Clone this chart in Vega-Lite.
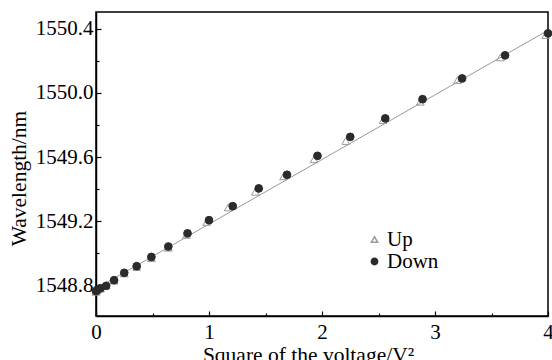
{
  "$schema": "https://vega.github.io/schema/vega-lite/v6.json",
  "width": 452,
  "height": 304,
  "autosize": {"type": "none"},
  "padding": {"left": 96, "top": 12, "right": 4, "bottom": 44},
  "background": "white",
  "config": {
    "view": {"stroke": "black", "strokeWidth": 1.5},
    "font": "Liberation Serif",
    "axis": {
      "labelFont": "Liberation Serif, Times New Roman, serif",
      "titleFont": "Liberation Serif, Times New Roman, serif",
      "labelFontSize": 21,
      "titleFontSize": 21.5,
      "titleFontWeight": "normal",
      "labelColor": "black",
      "titleColor": "black",
      "domainColor": "black",
      "domainWidth": 1.5,
      "tickColor": "black",
      "tickWidth": 1.2,
      "grid": false
    },
    "legend": {
      "labelFont": "Liberation Serif, Times New Roman, serif",
      "labelFontSize": 21,
      "labelColor": "black"
    }
  },
  "data": {
    "values": [
      {"v2": 0, "wl": 1548.78, "series": "Fit"},
      {"v2": 4, "wl": 1550.39, "series": "Fit"},
      {"v2": 0.0, "wl": 1548.760, "series": "Up"},
      {"v2": 0.01, "wl": 1548.770, "series": "Up"},
      {"v2": 0.04, "wl": 1548.780, "series": "Up"},
      {"v2": 0.09, "wl": 1548.800, "series": "Up"},
      {"v2": 0.16, "wl": 1548.830, "series": "Up"},
      {"v2": 0.25, "wl": 1548.875, "series": "Up"},
      {"v2": 0.36, "wl": 1548.915, "series": "Up"},
      {"v2": 0.49, "wl": 1548.970, "series": "Up"},
      {"v2": 0.64, "wl": 1549.035, "series": "Up"},
      {"v2": 0.80, "wl": 1549.115, "series": "Up"},
      {"v2": 0.98, "wl": 1549.196, "series": "Up"},
      {"v2": 1.17, "wl": 1549.286, "series": "Up"},
      {"v2": 1.41, "wl": 1549.384, "series": "Up"},
      {"v2": 1.66, "wl": 1549.480, "series": "Up"},
      {"v2": 1.93, "wl": 1549.586, "series": "Up"},
      {"v2": 2.21, "wl": 1549.700, "series": "Up"},
      {"v2": 2.54, "wl": 1549.830, "series": "Up"},
      {"v2": 2.87, "wl": 1549.945, "series": "Up"},
      {"v2": 3.20, "wl": 1550.080, "series": "Up"},
      {"v2": 3.58, "wl": 1550.221, "series": "Up"},
      {"v2": 3.98, "wl": 1550.360, "series": "Up"},
      {"v2": 0.0, "wl": 1548.765, "series": "Down"},
      {"v2": 0.01, "wl": 1548.772, "series": "Down"},
      {"v2": 0.04, "wl": 1548.783, "series": "Down"},
      {"v2": 0.09, "wl": 1548.798, "series": "Down"},
      {"v2": 0.16, "wl": 1548.833, "series": "Down"},
      {"v2": 0.25, "wl": 1548.879, "series": "Down"},
      {"v2": 0.36, "wl": 1548.920, "series": "Down"},
      {"v2": 0.49, "wl": 1548.978, "series": "Down"},
      {"v2": 0.64, "wl": 1549.043, "series": "Down"},
      {"v2": 0.81, "wl": 1549.125, "series": "Down"},
      {"v2": 1.00, "wl": 1549.207, "series": "Down"},
      {"v2": 1.21, "wl": 1549.294, "series": "Down"},
      {"v2": 1.44, "wl": 1549.405, "series": "Down"},
      {"v2": 1.69, "wl": 1549.490, "series": "Down"},
      {"v2": 1.96, "wl": 1549.608, "series": "Down"},
      {"v2": 2.25, "wl": 1549.726, "series": "Down"},
      {"v2": 2.56, "wl": 1549.841, "series": "Down"},
      {"v2": 2.89, "wl": 1549.961, "series": "Down"},
      {"v2": 3.24, "wl": 1550.090, "series": "Down"},
      {"v2": 3.62, "wl": 1550.234, "series": "Down"},
      {"v2": 4.00, "wl": 1550.371, "series": "Down"}
    ]
  },
  "encoding": {
    "x": {
      "field": "v2", "type": "quantitative",
      "scale": {"domain": [0, 4], "nice": false, "zero": false},
      "axis": {
        "title": "Square of the voltage/V²",
        "values": [0, 0.5, 1, 1.5, 2, 2.5, 3, 3.5, 4],
        "labelExpr": "datum.value % 1 == 0 ? format(datum.value, 'd') : ''",
        "tickSize": {"condition": {"test": "datum.value % 1 == 0", "value": -5}, "value": -3},
        "labelPadding": 10,
        "titlePadding": 0,
        "titleX": 212,
        "labelFlush": false,
        "labelOverlap": false
      }
    },
    "y": {
      "field": "wl", "type": "quantitative",
      "scale": {"domain": [1548.61, 1550.504], "nice": false, "zero": false},
      "axis": {
        "title": "Wavelength/nm",
        "values": [1548.8, 1549.0, 1549.2, 1549.4, 1549.6, 1549.8, 1550.0, 1550.2, 1550.4],
        "labelExpr": "round(datum.value*10) % 4 == 0 ? format(datum.value, '.1f') : ''",
        "tickSize": {"condition": {"test": "round(datum.value*10) % 4 == 0", "value": -5}, "value": -3},
        "labelPadding": 8,
        "titlePadding": 5,
        "titleY": 166,
        "labelFlush": false,
        "labelOverlap": false
      }
    }
  },
  "layer": [
    {
      "transform": [{"filter": "datum.series == 'Fit'"}],
      "mark": {"type": "line", "color": "#999999", "strokeWidth": 1}
    },
    {
      "transform": [{"filter": "datum.series != 'Fit'"}],
      "mark": {"type": "point", "strokeWidth": 1, "size": 60, "opacity": 1},
      "encoding": {
        "order": {"field": "series", "sort": "descending"},
        "shape": {"field": "series", "type": "nominal", "scale": {"domain": ["Up", "Down"], "range": ["triangle-up", "circle"]},
          "legend": {
            "title": null,
            "orient": "none",
            "legendX": 268,
            "legendY": 217,
            "symbolSize": 40,
            "rowPadding": 0,
            "labelOffset": 2
          }
        },
        "fill": {"field": "series", "type": "nominal", "scale": {"domain": ["Up", "Down"], "range": ["transparent", "#2b2b2b"]}},
        "stroke": {"field": "series", "type": "nominal", "scale": {"domain": ["Up", "Down"], "range": ["#9a9a9a", "#2b2b2b"]}}
      }
    }
  ]
}
